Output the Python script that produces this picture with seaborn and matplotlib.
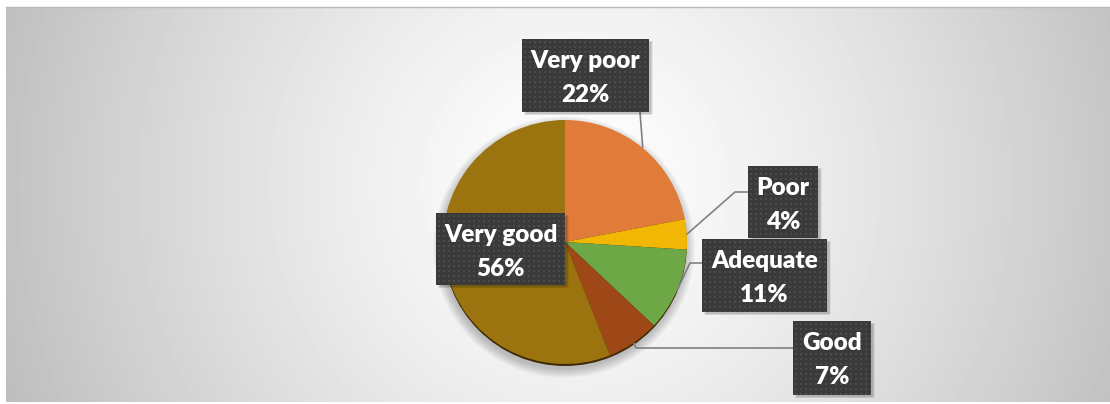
import numpy as np
import matplotlib
matplotlib.use("Agg")
import matplotlib.pyplot as plt
import seaborn as sns
from matplotlib.patches import Circle, Rectangle

# Survey answers, clockwise from 12 o'clock
categories = ["Very poor", "Poor", "Adequate", "Good", "Very good"]
shares = [22, 4, 11, 7, 56]
slice_colors = ["#E07B39", "#F2B705", "#6EA846", "#9D4816", "#9B740F"]

W, H = 1110, 404
sns.set_theme(style="white")
plt.rcParams["font.family"] = ["Lato", "DejaVu Sans"]

fig = plt.figure(figsize=(W / 100, H / 100), dpi=100, facecolor="white")
ax = fig.add_axes([0, 0, 1, 1])


def Y(y):
    """Layout is written top-down in pixels; the axes run bottom-up."""
    return H - y


# ---- radial backdrop -------------------------------------------------
bx0, bx1, by0, by1 = 6, W, 7, 402
gx, gy = np.meshgrid(np.arange(bx0, bx1) + 0.5, np.arange(by0, by1) + 0.5)
dist = np.hypot(gx - 575, gy - 185)
shade = 255 - 62 * np.clip(dist / 580, 0, None) ** 1.3
shade = np.clip(shade, 185, 255) / 255
ax.imshow(shade, cmap="gray", vmin=0, vmax=1, origin="upper",
          extent=(bx0, bx1, Y(by1), Y(by0)), interpolation="bilinear",
          zorder=0, aspect="auto")
ax.plot([bx0, bx1], [Y(by0), Y(by0)], color="#b9b9b9", lw=1.0, zorder=1)

# ---- pie ---------------------------------------------------------------
cx, cy, r = 565, 242, 122

# soft drop shadow and dark lower rim
for k in range(10):
    ax.add_patch(Circle((cx - 1, Y(cy + 5)), r + 9 - k, color="black",
                        alpha=0.022, lw=0, zorder=2))
ax.add_patch(Circle((cx, Y(cy + 2)), r, color="#3d2a05", lw=0, zorder=3))

wedges, _ = ax.pie(shares, colors=slice_colors, startangle=90,
                   counterclock=False, center=(cx, Y(cy)), radius=r,
                   wedgeprops=dict(linewidth=0, zorder=4))
for w in wedges:
    w.set_zorder(4)

# ---- data label boxes -------------------------------------------------
# (left, top, width, height) in pixels, plus leader waypoints from the box
boxes = {
    "Very poor": (522, 39, 127, 73),
    "Poor": (748, 166, 70, 72),
    "Adequate": (702, 239, 125, 73),
    "Good": (793, 321, 78, 74),
    "Very good": (436, 213, 129, 72),
}
leaders = {
    "Very poor": [(640, 112)],
    "Poor": [(748, 192), (735, 192)],
    "Adequate": [(702, 263), (690, 263)],
    "Good": [(793, 348), (636, 348)],
}


def dotted_fill(w, h):
    img = np.full((h, w, 3), 0x3a / 255)
    for yy in range(2, h, 5):
        for xx in range(2, w, 5):
            img[yy:yy + 2, xx:xx + 2] = 0x4b / 255
    return img


for name, w in zip(categories, wedges):
    if name in leaders:
        mid = np.deg2rad((w.theta1 + w.theta2) / 2)
        ex = w.center[0] + w.r * np.cos(mid)
        ey = w.center[1] + w.r * np.sin(mid)
        pts = [(x, Y(y)) for x, y in leaders[name]] + [(ex, ey)]
        xs, ys = zip(*pts)
        ax.plot(xs, ys, color="#808080", lw=1.2, zorder=5,
                solid_capstyle="butt")

for name, val in zip(categories, shares):
    left, top, bw, bh = boxes[name]
    # box shadow
    for k in range(4):
        ax.add_patch(Rectangle((left + 2 + k * 0.5, Y(top + bh + 3 - k * 0.5)),
                               bw, bh, color="black", alpha=0.06, lw=0,
                               zorder=6))
    ax.imshow(dotted_fill(bw, bh), origin="upper",
              extent=(left, left + bw, Y(top + bh), Y(top)),
              interpolation="nearest", zorder=7, aspect="auto")
    xc = left + bw / 2
    ax.text(xc, Y(top + 29), name, color="white", fontsize=17.5,
            fontweight="heavy", ha="center", va="baseline", zorder=8)
    ax.text(xc, Y(top + 63), f"{val}%", color="white", fontsize=17.5,
            fontweight="heavy", ha="center", va="baseline", zorder=8)

ax.set_xlim(0, W)
ax.set_ylim(0, H)
ax.set_aspect("auto")
ax.axis("off")

fig.savefig("out.png", dpi=100, facecolor="white")
